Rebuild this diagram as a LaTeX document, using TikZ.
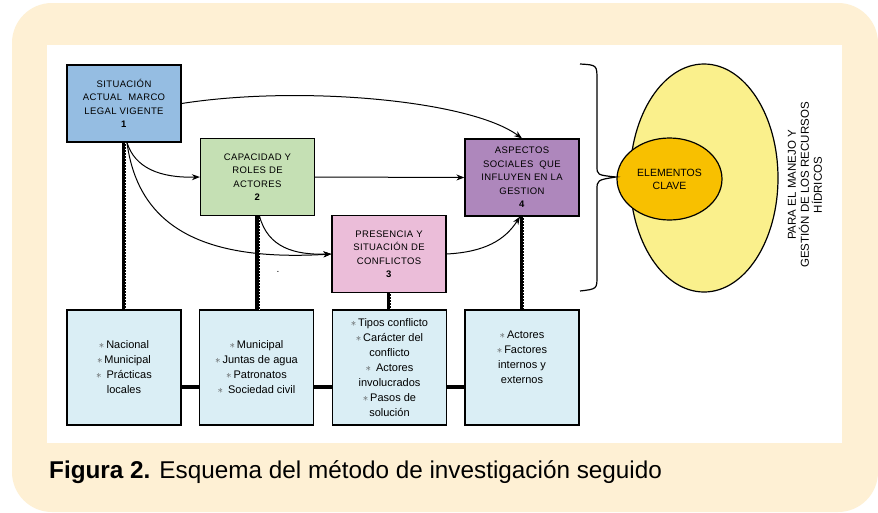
\documentclass[tikz,border=0pt]{standalone}
\usepackage{fontspec}
\setmainfont{Liberation Sans}
\usetikzlibrary{arrows.meta, positioning, calc, shapes.geometric}

\definecolor{crema}{HTML}{FEF0D4}
\definecolor{azul}{HTML}{95BDE2}
\definecolor{verde}{HTML}{C5E0B4}
\definecolor{rosa}{HTML}{EBBDD9}
\definecolor{morado}{HTML}{AE87BC}
\definecolor{celeste}{HTML}{DAEEF5}
\definecolor{amarillo}{HTML}{FAF08C}
\definecolor{naranja}{HTML}{F8C000}

\newcommand{\pto}{{\color{black!70}$\ast$}\,}

\begin{document}
\begin{tikzpicture}[
  x=1pt, y=-1pt,
  every node/.style={align=center, inner sep=0pt},
  etapa/.style={draw, line width=1.2pt, minimum width=114pt, minimum height=77pt,
                font=\fontsize{9.5}{13.5}\selectfont\addfontfeature{LetterSpace=4}},
  detalle/.style={draw, line width=1.2pt, fill=celeste, minimum width=114pt,
                  minimum height=115pt, font=\fontsize{11}{15}\selectfont},
  arr/.style={-{Stealth[length=8pt, width=6pt]}, line width=1pt},
  tie/.style={line width=4.5pt,
              postaction={draw=white, line width=0.7pt, dash pattern=on 1.2pt off 1.8pt,
                          transform canvas={xshift=1.4pt}}},
  enlace/.style={line width=4.5pt}
]
  \useasboundingbox (0,0) rectangle (878,512);
  \fill[white] (0,0) rectangle (878,512);
  \fill[crema, rounded corners=40pt] (12,3) rectangle (878,512);
  \fill[white] (47,45) rectangle (842,443);

  % etapas
  \node[etapa, fill=azul]   (sit)  at (124,103.5) {SITUACIÓN\\ACTUAL~~MARCO\\LEGAL VIGENTE\\\textbf{1}};
  \node[etapa, fill=verde]  (cap)  at (257.5,177)  {CAPACIDAD Y\\ROLES DE\\ACTORES\\\textbf{2}};
  \node[etapa, fill=rosa]   (conf) at (389,254)    {PRESENCIA Y\\SITUACIÓN DE\\CONFLICTOS\\\textbf{3}};
  \node[etapa, fill=morado] (asp)  at (522,177.5)  {ASPECTOS\\SOCIALES~~QUE\\INFLUYEN EN LA\\GESTION\\\textbf{4}};

  % detalles
  \node[detalle] (d1) at (124,367.5)   {\pto Nacional\\\pto Municipal\\\pto~Prácticas\\locales};
  \node[detalle] (d2) at (256.5,367.5) {\pto Municipal\\\pto Juntas de agua\\\pto Patronatos\\\pto~Sociedad civil};
  \node[detalle] (d3) at (389.5,367.5) {\pto Tipos conflicto\\\pto Carácter del\\conflicto\\\pto~Actores\\involucrados\\\pto Pasos de\\solución};
  \node[detalle] (d4) at (522,367.5)   {\pto Actores\\\pto Factores\\internos y\\externos\\[6pt]};

  \node (punto) at (278,272) {.};

  \draw[tie] (sit.south) -- (d1.north);
  \draw[tie] (cap.south) -- (cap.south |- d2.north);
  \draw[tie] (conf.south) -- (conf.south |- d3.north);
  \draw[tie] (asp.south) -- (asp.south |- d4.north);

  \draw[enlace] ([yshift=-19.5pt]d1.east) -- ([yshift=-19.5pt]d2.west);
  \draw[enlace] ([yshift=-19.5pt]d2.east) -- ([yshift=-19.5pt]d3.west);
  \draw[enlace] ([yshift=-19.5pt]d3.east) -- ([yshift=-19.5pt]d4.west);

  % flechas
  \draw[arr] (sit.east) .. controls (300,85) and (470,100) .. (asp.north);
  \draw[arr] ([xshift=3pt]sit.south) .. controls (135,168) and (160,178) .. (cap.west);
  \draw[arr] ([xshift=3pt]sit.south) .. controls (138,225) and (200,262) .. (conf.west);
  \draw[arr] ([xshift=2pt]cap.south) .. controls (268,248) and (295,255) .. (conf.west);
  \draw[arr] (cap.east) -- (asp.west);
  \draw[arr] (conf.east) .. controls (485,252) and (505,240) .. ([xshift=-2pt]asp.south);

  % llave y elementos clave
  \node[ellipse, draw, line width=1.2pt, fill=amarillo, minimum width=148pt,
        minimum height=228pt] (marco) at (704,178) {};
  \node[ellipse, draw, line width=1.2pt, fill=naranja, minimum width=105pt,
        minimum height=82pt, font=\fontsize{10.5}{13}\selectfont] (clave) at (669.5,179) {ELEMENTOS\\CLAVE};
  \coordinate (pico) at (616,177);
  \draw[line width=1.2pt] (580,64) .. controls (597,65) .. (597,80) -- (597,166)
        .. controls (597,175) .. (pico) .. controls (597,180) .. (597,190) -- (597,276)
        .. controls (597,289) .. (580,291);
  \node[rotate=90, font=\fontsize{11.5}{13}\selectfont] (para) at (805,185)
        {PARA EL MANEJO Y\\GESTIÓN DE LOS RECURSOS\\HÍDRICOS};

  \node[anchor=west, font=\fontsize{24.3}{27}\selectfont] (pie) at (49,472)
        {\textbf{Figura 2.} Esquema del método de investigación seguido};
\end{tikzpicture}
\end{document}
